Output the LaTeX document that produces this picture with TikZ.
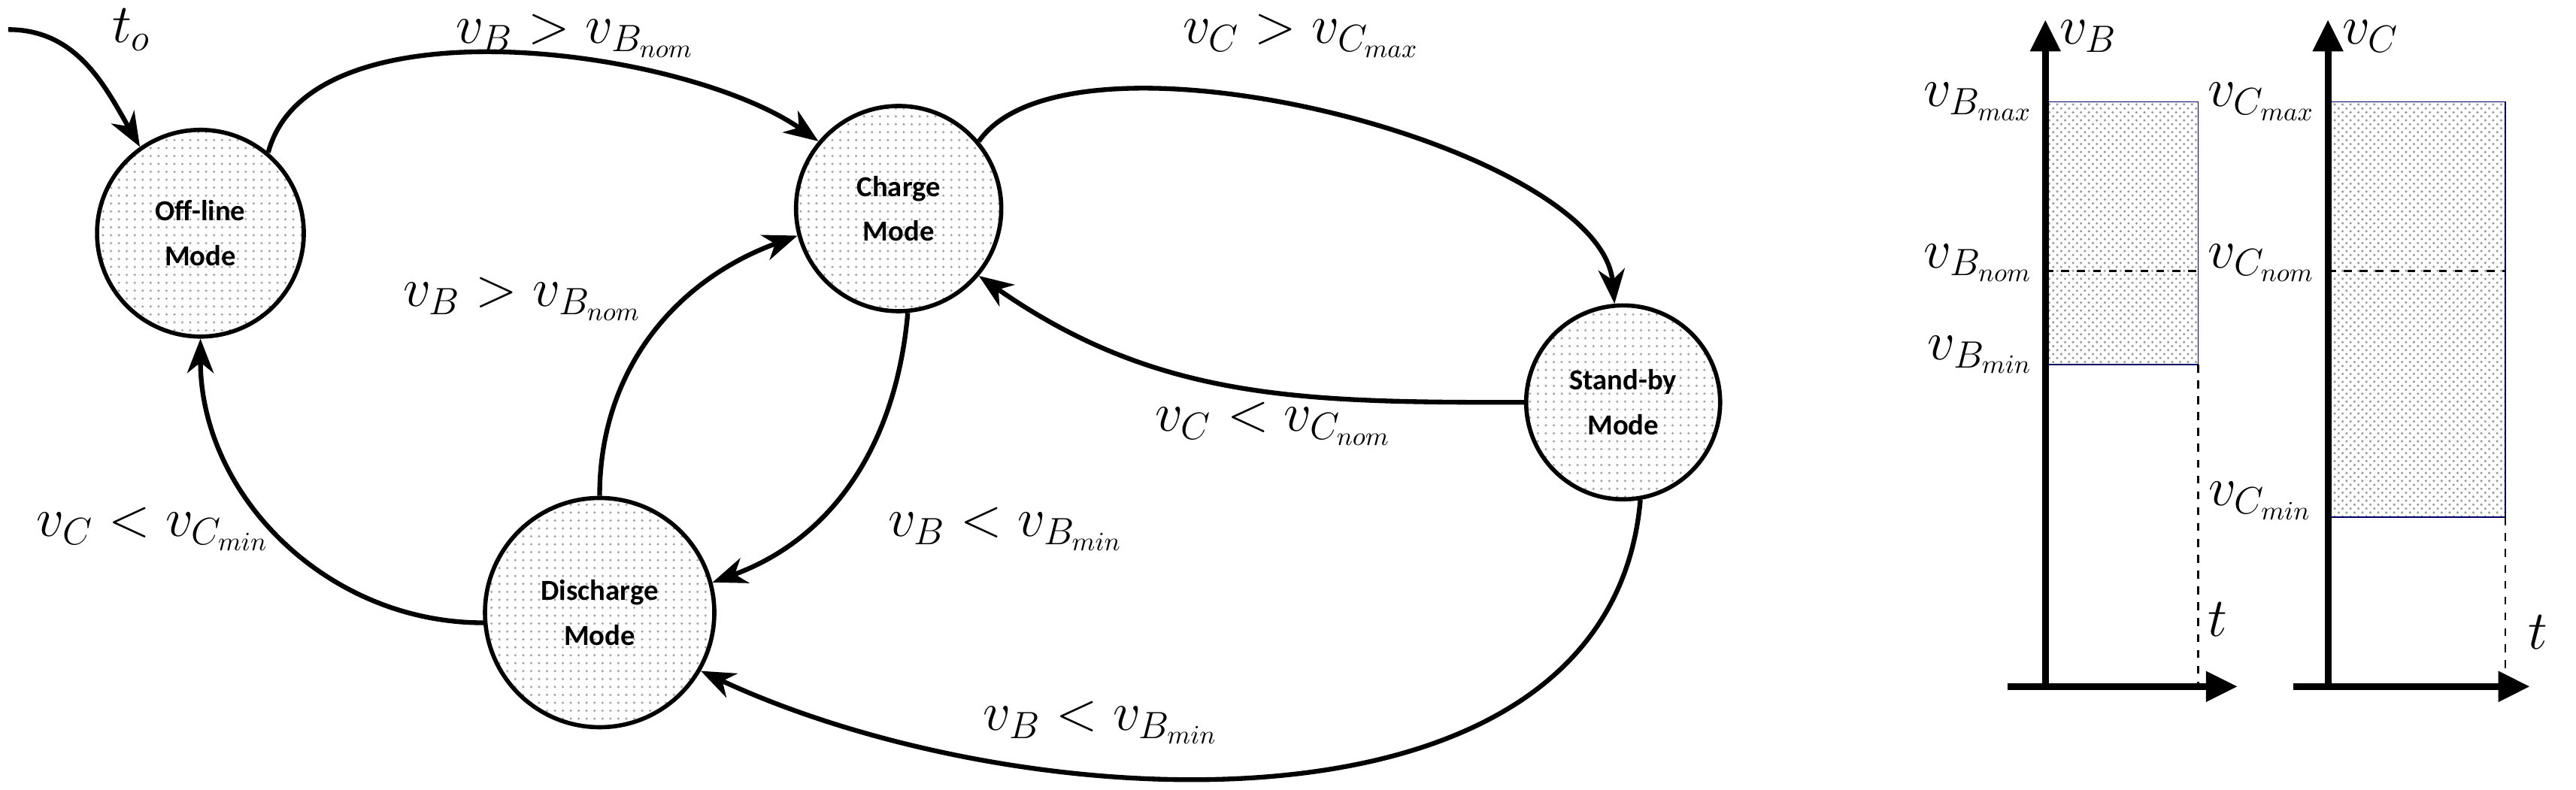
\documentclass[tikz,border=0pt]{standalone}
\usepackage{fontspec}
\newfontfamily\nodefont{Carlito}
\usetikzlibrary{arrows.meta,patterns}
\begin{document}
\begin{tikzpicture}[x=0.02185cm,y=-0.02185cm,
  state/.style={circle,draw,line width=1.6pt,minimum size=#1,inner sep=0pt,
    pattern=dots,pattern color=gray!70,align=center,font=\nodefont\bfseries\fontsize{11}{17}\selectfont},
  tr/.style={line width=1.8pt,-{Stealth[length=13pt,width=10pt,inset=4pt]}},
  lab/.style={font=\fontsize{20}{24}\selectfont},
  ax/.style={line width=2.6pt,-{Triangle[length=12pt,width=11pt]}},
  band/.style={pattern=crosshatch dots,pattern color=gray!80,draw=blue!40!black,line width=0.5pt}]
\useasboundingbox (0,0) rectangle (1568,481);
% states
\node[state=2.75cm] (off) at (122,142) {Off-line\\Mode};
\node[state=2.73cm] (chg) at (547,127) {Charge\\Mode};
\node[state=2.58cm] (stb) at (988,245) {Stand-by\\Mode};
\node[state=3.05cm] (dis) at (365,373) {Discharge\\Mode};
\coordinate (t0) at (5,18);
% transitions
\draw[tr] (t0) to[out=0,in=120] (off.125);
\draw[tr] (off.50) to[out=75,in=145,looseness=0.75] (chg.140);
\draw[tr] (chg.40) to[out=55,in=95,looseness=0.62] (stb.95);
\draw[tr] (stb.180) to[out=180,in=-35] (chg.-40);
\draw[tr] (chg.-85) to[out=-95,in=20] (dis.15);
\draw[tr] (dis.90) to[out=90,in=200] (chg.195);
\draw[tr] (dis.185) to[out=180,in=-90] (off.-90);
\draw[tr] (stb.-80) to[out=-95,in=-25,looseness=0.95] (dis.-30);
% labels
\node[lab] (l1) at (350,22) {$v_B > v_{B_{nom}}$};
\node[lab] (l2) at (792,22) {$v_C > v_{C_{max}}$};
\node[lab] (l3) at (775,258) {$v_C < v_{C_{nom}}$};
\node[lab] (l4) at (612,322) {$v_B < v_{B_{min}}$};
\node[lab] (l5) at (318,182) {$v_B > v_{B_{nom}}$};
\node[lab] (l6) at (93,322) {$v_C < v_{C_{min}}$};
\node[lab] (l7) at (670,440) {$v_B < v_{B_{min}}$};
\node[lab] (l8) at (80,18) {$t_o$};
% chart 1
\fill[band] (1245,62) rectangle (1338,222);
\draw[dashed,line width=0.6pt] (1245,165) -- (1338,165);
\draw[dashed,line width=0.6pt] (1338,222) -- (1338,418);
\coordinate (a1o) at (1245,418);
\coordinate (a1t) at (1245,12);
\coordinate (a1l) at (1222,418);
\coordinate (a1r) at (1362,418);
\draw[ax] (a1o) -- (a1t);
\draw[ax] (a1l) -- (a1r);
\node[lab,anchor=west] (vb) at (1248,22) {$v_B$};
\node[lab] (tb) at (1350,377) {$t$};
\node[lab,anchor=east] (bmax) at (1243,62) {$v_{B_{max}}$};
\node[lab,anchor=east] (bnom) at (1243,160) {$v_{B_{nom}}$};
\node[lab,anchor=east] (bmin) at (1243,216) {$v_{B_{min}}$};
% chart 2
\fill[band] (1417,62) rectangle (1525,315);
\draw[dashed,line width=0.6pt] (1417,165) -- (1525,165);
\draw[dashed,line width=0.6pt] (1525,315) -- (1525,418);
\coordinate (a2o) at (1417,418);
\coordinate (a2t) at (1417,12);
\coordinate (a2l) at (1396,418);
\coordinate (a2r) at (1540,418);
\draw[ax] (a2o) -- (a2t);
\draw[ax] (a2l) -- (a2r);
\node[lab,anchor=west] (vc) at (1420,22) {$v_C$};
\node[lab] (tc) at (1545,385) {$t$};
\node[lab,anchor=east] (cmax) at (1415,62) {$v_{C_{max}}$};
\node[lab,anchor=east] (cnom) at (1415,160) {$v_{C_{nom}}$};
\node[lab,anchor=east] (cmin) at (1413,305) {$v_{C_{min}}$};
\end{tikzpicture}
\end{document}
